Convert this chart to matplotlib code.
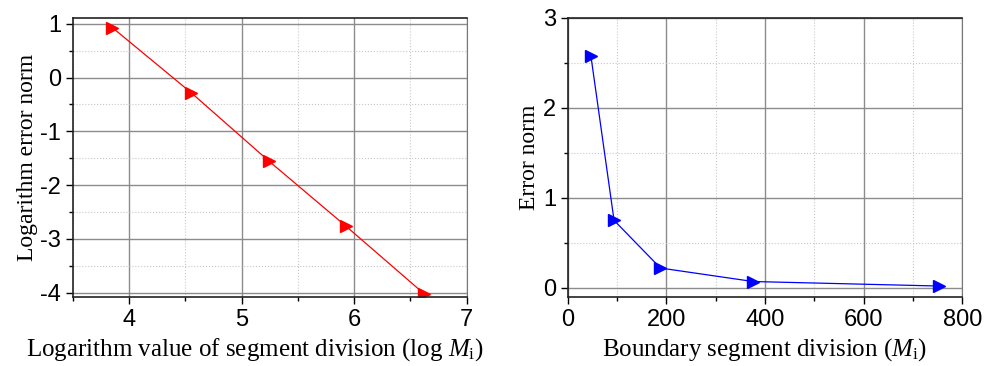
import matplotlib
matplotlib.use('Agg')
import matplotlib.pyplot as plt
from matplotlib.ticker import MultipleLocator

# data
log_m = [3.85, 4.55, 5.24, 5.93, 6.62]
log_err = [0.93, -0.28, -1.55, -2.77, -4.02]

m_div = [47, 94, 188, 376, 752]
err_norm = [2.58, 0.75, 0.22, 0.07, 0.02]

plt.rcParams['mathtext.fontset'] = 'custom'
plt.rcParams['mathtext.rm'] = 'Liberation Serif'
plt.rcParams['mathtext.it'] = 'Liberation Serif:italic'
plt.rcParams['axes.unicode_minus'] = False

tick_font = 'Liberation Sans'
label_font = 'Liberation Serif'

fig = plt.figure(figsize=(9.89, 3.66), dpi=100)
ax1 = fig.add_axes([0.0738, 0.189, 0.398, 0.762])
ax2 = fig.add_axes([0.574, 0.189, 0.399, 0.762])


def style(ax, xmaj, xmin, ymaj, ymin):
    ax.xaxis.set_major_locator(MultipleLocator(xmaj))
    ax.xaxis.set_minor_locator(MultipleLocator(xmin))
    ax.yaxis.set_major_locator(MultipleLocator(ymaj))
    ax.yaxis.set_minor_locator(MultipleLocator(ymin))
    ax.grid(which='major', color='#8c8c8c', linewidth=1.0)
    ax.grid(which='minor', color='#c8c8c8', linewidth=0.8, linestyle=':')
    ax.set_axisbelow(True)
    ax.tick_params(which='both', direction='out', top=False, right=False)
    ax.tick_params(which='major', length=5, width=1, labelsize=17)
    ax.tick_params(which='minor', length=3, width=1)
    for lab in ax.get_xticklabels() + ax.get_yticklabels():
        lab.set_fontfamily(tick_font)
    for s in ['left', 'bottom', 'top']:
        ax.spines[s].set_color('#222222')
        ax.spines[s].set_linewidth(1.2)
    ax.spines['right'].set_color('#777777')


ax1.plot(log_m, log_err, color='red', linewidth=0.9, marker='>', markersize=8)
ax1.set_xlim(3.5, 7)
ax1.set_ylim(-4.08, 1.11)
style(ax1, 1, 0.5, 1, 0.5)
ax1.set_xlabel('Logarithm value of segment division (log $M_\\mathrm{i}$)',
               fontfamily=label_font, fontsize=18, labelpad=4)
ax1.xaxis.label.set_x(0.462)
ax1.set_ylabel('Logarithm error norm', fontfamily=label_font, fontsize=17, labelpad=2)

ax2.plot(m_div, err_norm, color='blue', linewidth=0.9, marker='>', markersize=8)
ax2.set_xlim(0, 800)
ax2.set_ylim(-0.1, 3)
style(ax2, 200, 100, 1, 0.5)
ax2.set_xlabel('Boundary segment division ($M_\\mathrm{i}$)',
               fontfamily=label_font, fontsize=18, labelpad=4)
ax2.set_ylabel('Error norm', fontfamily=label_font, fontsize=17, labelpad=2)

fig.savefig('out.png', dpi=100)
